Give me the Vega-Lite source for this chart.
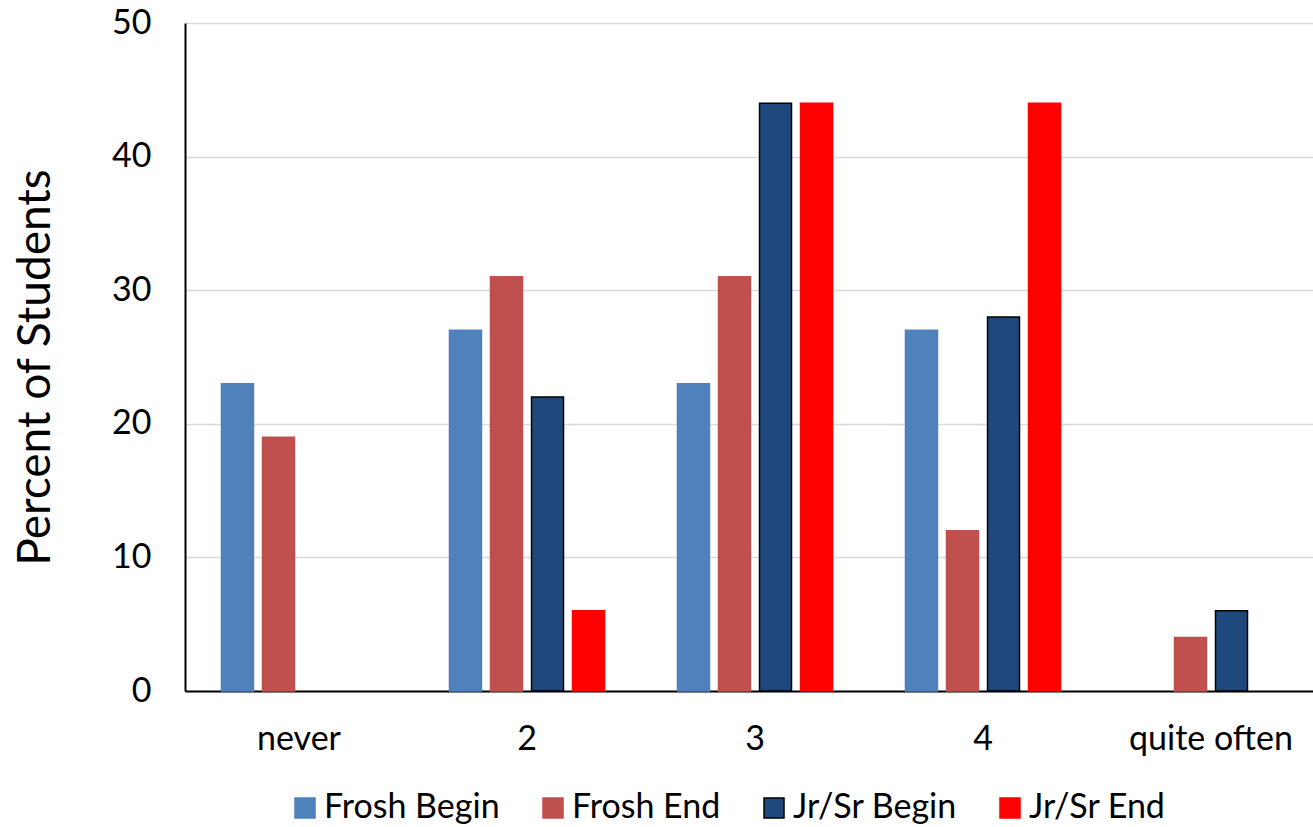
{
  "$schema": "https://vega.github.io/schema/vega-lite/v6.json",
  "width": 1128,
  "height": 668,
  "autosize": "none",
  "padding": {"left": 185, "top": 23, "right": 0, "bottom": 136},
  "background": "white",
  "config": {
    "view": {"stroke": null},
    "font": "Lato",
    "axis": {"labelFont": "Lato", "titleFont": "Lato", "labelColor": "black", "titleColor": "black", "titleFontWeight": "normal"},
    "legend": {"labelFont": "Lato"}
  },
  "data": {
    "values": [
      {"freq": "never", "group": "Frosh Begin", "pct": 23},
      {"freq": "never", "group": "Frosh End", "pct": 19},
      {"freq": "2", "group": "Frosh Begin", "pct": 27},
      {"freq": "2", "group": "Frosh End", "pct": 31},
      {"freq": "2", "group": "Jr/Sr Begin", "pct": 22},
      {"freq": "2", "group": "Jr/Sr End", "pct": 6},
      {"freq": "3", "group": "Frosh Begin", "pct": 23},
      {"freq": "3", "group": "Frosh End", "pct": 31},
      {"freq": "3", "group": "Jr/Sr Begin", "pct": 44},
      {"freq": "3", "group": "Jr/Sr End", "pct": 44},
      {"freq": "4", "group": "Frosh Begin", "pct": 27},
      {"freq": "4", "group": "Frosh End", "pct": 12},
      {"freq": "4", "group": "Jr/Sr Begin", "pct": 28},
      {"freq": "4", "group": "Jr/Sr End", "pct": 44},
      {"freq": "quite often", "group": "Frosh End", "pct": 4},
      {"freq": "quite often", "group": "Jr/Sr Begin", "pct": 6}
    ]
  },
  "mark": {"type": "bar", "strokeWidth": 1.5},
  "encoding": {
    "x": {
      "field": "freq",
      "type": "nominal",
      "sort": ["never", "2", "3", "4", "quite often"],
      "scale": {"range": [0, 1140], "paddingInner": 0.32, "paddingOuter": 0.16},
      "axis": {
        "title": null,
        "labelAngle": 0,
        "labelFontSize": 34,
        "labelPadding": 31,
        "ticks": false,
        "tickSize": 0,
        "domainColor": "black",
        "domainWidth": 2,
        "grid": false
      }
    },
    "xOffset": {
      "field": "group",
      "type": "nominal",
      "sort": ["Frosh Begin", "Frosh End", "Jr/Sr Begin", "Jr/Sr End"],
      "scale": {"domain": ["Frosh Begin", "Frosh End", "Jr/Sr Begin", "Jr/Sr End"], "paddingInner": 0.22, "paddingOuter": 0}
    },
    "y": {
      "field": "pct",
      "type": "quantitative",
      "scale": {"domain": [0, 50], "nice": false},
      "axis": {
        "title": "Percent of Students",
        "titleFontSize": 46,
        "titleX": -150,
        "titleY": 344,
        "titleAngle": -90,
        "titleAlign": "center",
        "titleBaseline": "middle",
        "values": [0, 10, 20, 30, 40, 50],
        "labelFontSize": 34,
        "labelPadding": 34,
        "ticks": false,
        "tickSize": 0,
        "domainColor": "black",
        "domainWidth": 2,
        "grid": true,
        "gridColor": "#d9d9d9",
        "gridWidth": 1.3
      }
    },
    "fill": {
      "field": "group",
      "type": "nominal",
      "scale": {"domain": ["Frosh Begin", "Frosh End", "Jr/Sr Begin", "Jr/Sr End"], "range": ["#4f81bd", "#c0504d", "#1f497d", "#ff0000"]},
      "legend": {
        "title": null,
        "orient": "none",
        "direction": "horizontal",
        "legendX": 103,
        "legendY": 768,
        "symbolType": "square",
        "symbolSize": 400,
        "symbolStrokeWidth": 1.5,
        "labelFontSize": 34,
        "labelColor": "black",
        "labelOffset": 2,
        "labelLimit": 0,
        "columnPadding": 36
      }
    },
    "stroke": {
      "field": "group",
      "type": "nominal",
      "scale": {"domain": ["Frosh Begin", "Frosh End", "Jr/Sr Begin", "Jr/Sr End"], "range": ["#4f81bd", "#c0504d", "#000000", "#ff0000"]},
      "legend": {
        "title": null,
        "orient": "none",
        "direction": "horizontal",
        "legendX": 103,
        "legendY": 768,
        "symbolType": "square",
        "symbolSize": 400,
        "symbolStrokeWidth": 1.5,
        "labelFontSize": 34,
        "labelColor": "black",
        "labelOffset": 2,
        "labelLimit": 0,
        "columnPadding": 36
      }
    }
  }
}
